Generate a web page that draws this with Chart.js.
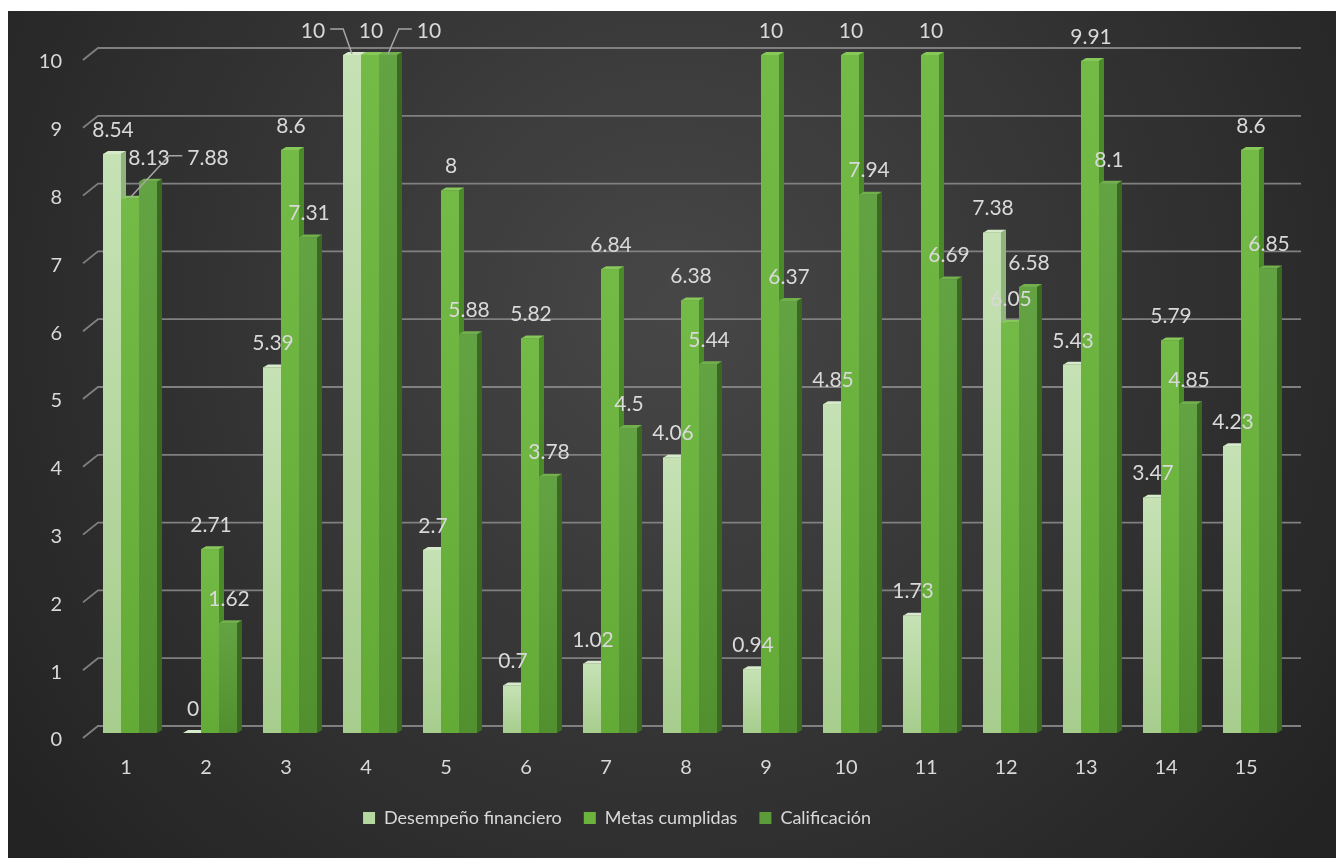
<!DOCTYPE html>
<html lang="es">
<head>
<meta charset="UTF-8">
<title>Desempeño, metas y calificación</title>
<script src="https://cdn.jsdelivr.net/npm/chart.js@4.4.0/dist/chart.umd.min.js"></script>
<style>
    body { margin: 0; background: #fff; }
    #chart { position: absolute; left: 8px; top: 11px; }
</style>
</head>
<body>
<canvas id="chart" width="1328" height="847"></canvas>
<script>
    var categories = ['1', '2', '3', '4', '5', '6', '7', '8', '9', '10', '11', '12', '13', '14', '15'];
    var seriesNames = ['Desempeño financiero', 'Metas cumplidas', 'Calificación'];
    var desempeno = [8.54, 0, 5.39, 10, 2.7, 0.7, 1.02, 4.06, 0.94, 4.85, 1.73, 7.38, 5.43, 3.47, 4.23];
    var metas = [7.88, 2.71, 8.6, 10, 8, 5.82, 6.84, 6.38, 10, 10, 10, 6.05, 9.91, 5.79, 8.6];
    var calificacion = [8.13, 1.62, 7.31, 10, 5.88, 3.78, 4.5, 5.44, 6.37, 7.94, 6.69, 6.58, 8.1, 4.85, 6.85];
    var yTicks = [0, 1, 2, 3, 4, 5, 6, 7, 8, 9, 10];

    // colours per series: flat, front top, front bottom, side, top
    var colors = [
        ['#b5d7a0', '#c6e2b5', '#a7cd8d', '#8fb57a', '#d5ebc9'],
        ['#6cb33e', '#74ba46', '#63aa36', '#4b8a28', '#86c85a'],
        ['#5c9b39', '#64a343', '#52902f', '#3a6a21', '#72b04e']
    ];
    var textColor = '#d9d9d9';
    var fontFamily = 'Lato, "Open Sans", sans-serif';
    var depthX = 5, depthY = 3;

    // labels that Excel moved aside, with leader lines: "series-category": [dx, dy]
    var labelMoves = { '1-0': [77, -17], '0-3': [-40, 0], '2-3': [40, 0] };

    var background = {
        id: 'background',
        beforeDraw: function (chart) {
            var ctx = chart.ctx, w = chart.width, h = chart.height;
            var g = ctx.createRadialGradient(w * 0.5, h * 0.35, 20, w * 0.5, h * 0.35, w * 0.62);
            g.addColorStop(0, '#464646');
            g.addColorStop(1, '#232323');
            ctx.save();
            ctx.fillStyle = g;
            ctx.fillRect(0, 0, w, h);
            ctx.restore();
        },
        beforeDatasetsDraw: function (chart) {
            // back-wall grid lines with the little slanted floor tick at the left
            var ctx = chart.ctx, y = chart.scales.y, area = chart.chartArea;
            ctx.save();
            ctx.strokeStyle = '#808080';
            ctx.lineWidth = 1.8;
            yTicks.forEach(function (v) {
                var py = y.getPixelForValue(v);
                ctx.beginPath();
                ctx.moveTo(area.left - 7, py + 5);
                ctx.lineTo(area.left + 8, py - 7);
                ctx.lineTo(area.right + 11, py - 7);
                ctx.stroke();
            });
            ctx.restore();
        }
    };

    var bars3d = {
        id: 'bars3d',
        afterDatasetsDraw: function (chart) {
            var ctx = chart.ctx;
            var metasList = [0, 1, 2].map(function (i) { return chart.getDatasetMeta(i); });
            ctx.save();
            for (var j = 0; j < categories.length; j++) {
                for (var i = 0; i < 3; i++) {
                    var p = metasList[i].data[j].getProps(['x', 'y', 'base', 'width'], true);
                    var l = p.x - p.width / 2, r = p.x + p.width / 2, c = colors[i];
                    ctx.fillStyle = c[3];
                    ctx.beginPath();
                    ctx.moveTo(r, p.y);
                    ctx.lineTo(r + depthX, p.y - depthY);
                    ctx.lineTo(r + depthX, p.base - depthY);
                    ctx.lineTo(r, p.base);
                    ctx.closePath();
                    ctx.fill();
                    ctx.fillStyle = c[4];
                    ctx.beginPath();
                    ctx.moveTo(l, p.y);
                    ctx.lineTo(r, p.y);
                    ctx.lineTo(r + depthX, p.y - depthY);
                    ctx.lineTo(l + depthX, p.y - depthY);
                    ctx.closePath();
                    ctx.fill();
                    if (p.base - p.y > 0.5) {
                        var g = ctx.createLinearGradient(0, p.y, 0, p.base);
                        g.addColorStop(0, c[1]);
                        g.addColorStop(1, c[2]);
                        ctx.fillStyle = g;
                        ctx.fillRect(l, p.y, p.width, p.base - p.y);
                    }
                }
            }
            // value labels
            ctx.font = '21px ' + fontFamily;
            ctx.textAlign = 'center';
            ctx.textBaseline = 'middle';
            ctx.strokeStyle = '#a6a6a6';
            ctx.lineWidth = 1.5;
            for (var i = 0; i < 3; i++) {
                var ds = chart.data.datasets[i];
                for (var j = 0; j < categories.length; j++) {
                    var p = metasList[i].data[j].getProps(['x', 'y'], true);
                    var txt = String(ds.data[j]);
                    var lx = p.x + 1, ly = p.y - 24;
                    var mv = labelMoves[i + '-' + j];
                    if (mv) {
                        lx += mv[0]; ly += mv[1];
                        var s = mv[0] > 0 ? 1 : -1;
                        var edge = lx - s * (ctx.measureText(txt).width / 2 + 5);
                        ctx.beginPath();
                        ctx.moveTo(p.x, p.y - 1);
                        ctx.lineTo(edge - s * 13, ly - 2);
                        ctx.lineTo(edge, ly - 2);
                        ctx.stroke();
                    }
                    ctx.fillStyle = textColor;
                    ctx.fillText(txt, lx, ly);
                }
            }
            ctx.restore();
        }
    };

    var legendShift = {
        id: 'legendShift',
        afterLayout: function (chart) {
            var lg = chart.legend;
            var dx = 609 - (lg.left + lg.right) / 2;
            lg.left += dx;
            lg.right += dx;
        }
    };

    new Chart(document.getElementById('chart'), {
        type: 'bar',
        data: {
            labels: categories,
            datasets: [
                { label: seriesNames[0], data: desempeno, backgroundColor: colors[0][0] },
                { label: seriesNames[1], data: metas, backgroundColor: colors[1][0] },
                { label: seriesNames[2], data: calificacion, backgroundColor: colors[2][0] }
            ]
        },
        options: {
            responsive: false,
            animation: false,
            categoryPercentage: 0.675,
            barPercentage: 1.0,
            layout: { padding: { left: 0, right: 46, top: 44, bottom: 21 } },
            scales: {
                x: {
                    grid: { display: false, drawTicks: false },
                    border: { display: false },
                    ticks: { color: textColor, font: { family: fontFamily, size: 20 }, padding: 23, labelOffset: -4 },
                    afterFit: function (scale) { scale.height = 54; }
                },
                y: {
                    min: 0,
                    max: 10,
                    grid: { display: false, drawTicks: false },
                    border: { display: false },
                    ticks: { stepSize: 1, color: textColor, font: { family: fontFamily, size: 20 }, padding: 28, labelOffset: 7 },
                    afterFit: function (scale) { scale.width = 82; }
                }
            },
            plugins: {
                legend: {
                    position: 'bottom',
                    labels: { color: textColor, font: { family: fontFamily, size: 18 }, boxWidth: 12, boxHeight: 12, padding: 22 }
                },
                tooltip: { enabled: false }
            }
        },
        plugins: [background, bars3d, legendShift]
    });
</script>
</body>
</html>
